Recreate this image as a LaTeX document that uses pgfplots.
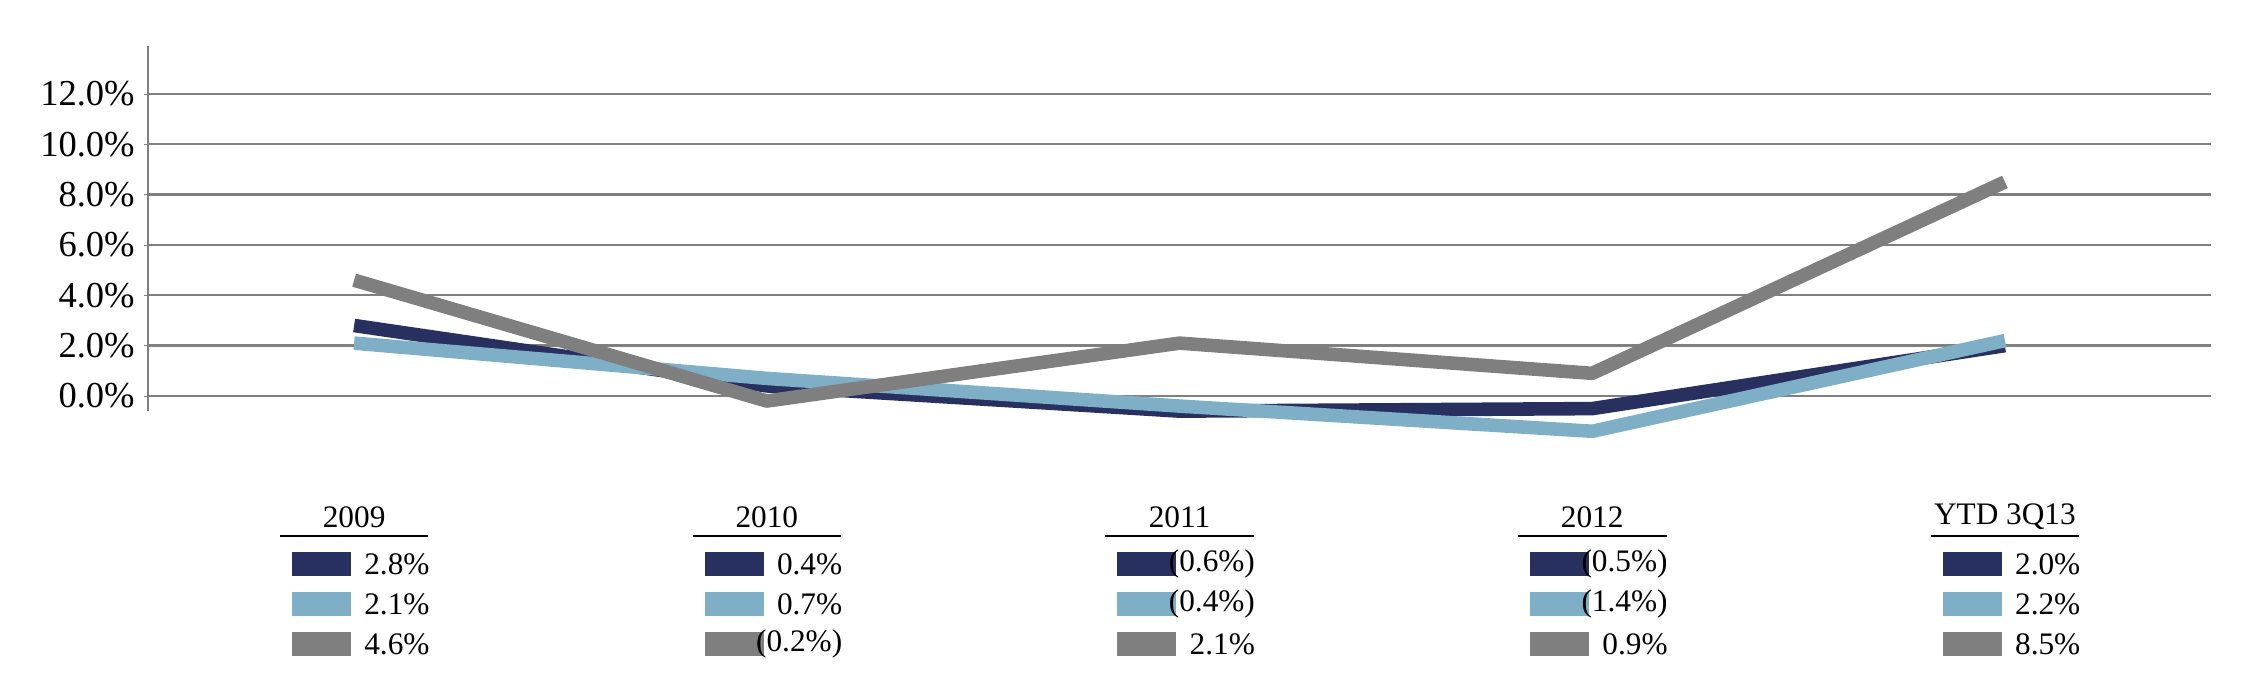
\documentclass[border=0pt]{standalone}
\usepackage{pgfplots}
\pgfplotsset{compat=1.18}
\usepackage{fontspec}
\setmainfont{Liberation Serif}
\definecolor{cnavy}{HTML}{283060}
\definecolor{clight}{HTML}{7FAFC6}
\definecolor{cgray}{HTML}{7F7F7F}
\newcommand{\tfont}{\fontsize{12}{14}\selectfont}
\newcommand{\cat}[5]{%
  \node[font=\tfont] at (axis cs:#1,-4.81) {#2};
  \draw[black,line width=0.6pt] (axis cs:#1-0.18,-5.55) -- (axis cs:#1+0.18,-5.55);
  \fill[cnavy] (axis cs:#1-0.151,-6.20) rectangle (axis cs:#1-0.008,-7.16);
  \fill[clight] (axis cs:#1-0.151,-7.78) rectangle (axis cs:#1-0.008,-8.74);
  \fill[cgray] (axis cs:#1-0.151,-9.37) rectangle (axis cs:#1-0.008,-10.33);
  \node[anchor=east,font=\tfont] at (axis cs:#1+0.205,-6.68) {#3};
  \node[anchor=east,font=\tfont] at (axis cs:#1+0.205,-8.26) {#4};
  \node[anchor=east,font=\tfont] at (axis cs:#1+0.205,-9.85) {#5};
}
\begin{document}
\begin{tikzpicture}
\begin{axis}[
  scale only axis, width=791pt, height=140pt,
  xmin=-0.5, xmax=4.5, ymin=-0.6, ymax=13.9,
  clip=false,
  axis y line=left, axis x line=none,
  y axis line style={-, draw=gray, line width=0.8pt},
  xtick=\empty,
  ytick={0,2,4,6,8,10,12},
  ymajorgrids, grid style={gray, line width=0.9pt},
  major tick length=3pt, ytick style={gray},
  /pgf/number format/assume math mode=true,
  yticklabel={\pgfmathprintnumber[fixed,fixed zerofill,precision=1]{\tick}\%},
  tick label style={font=\fontsize{14}{16}\selectfont},
]
\addplot[cnavy, line width=5.2pt, line join=round] coordinates {(0,2.8) (1,0.4) (2,-0.6) (3,-0.5) (4,2.0)};
\addplot[clight, line width=5.2pt, line join=round] coordinates {(0,2.1) (1,0.7) (2,-0.4) (3,-1.4) (4,2.2)};
\addplot[cgray, line width=5.2pt, line join=round] coordinates {(0,4.6) (1,-0.2) (2,2.1) (3,0.9) (4,8.5)};
\cat{0}{2009}{2.8\%}{2.1\%}{4.6\%}
\cat{1}{2010}{0.4\%}{0.7\%}{(0.2\%)}
\cat{2}{2011}{(0.6\%)}{(0.4\%)}{2.1\%}
\cat{3}{2012}{(0.5\%)}{(1.4\%)}{0.9\%}
\cat{4}{YTD 3Q13}{2.0\%}{2.2\%}{8.5\%}
\end{axis}
\path[use as bounding box] ([shift={(-56.65pt,-106.7pt)}]current axis.south west) rectangle ([shift={(14.85pt,17.6pt)}]current axis.north east);
\end{tikzpicture}
\end{document}
